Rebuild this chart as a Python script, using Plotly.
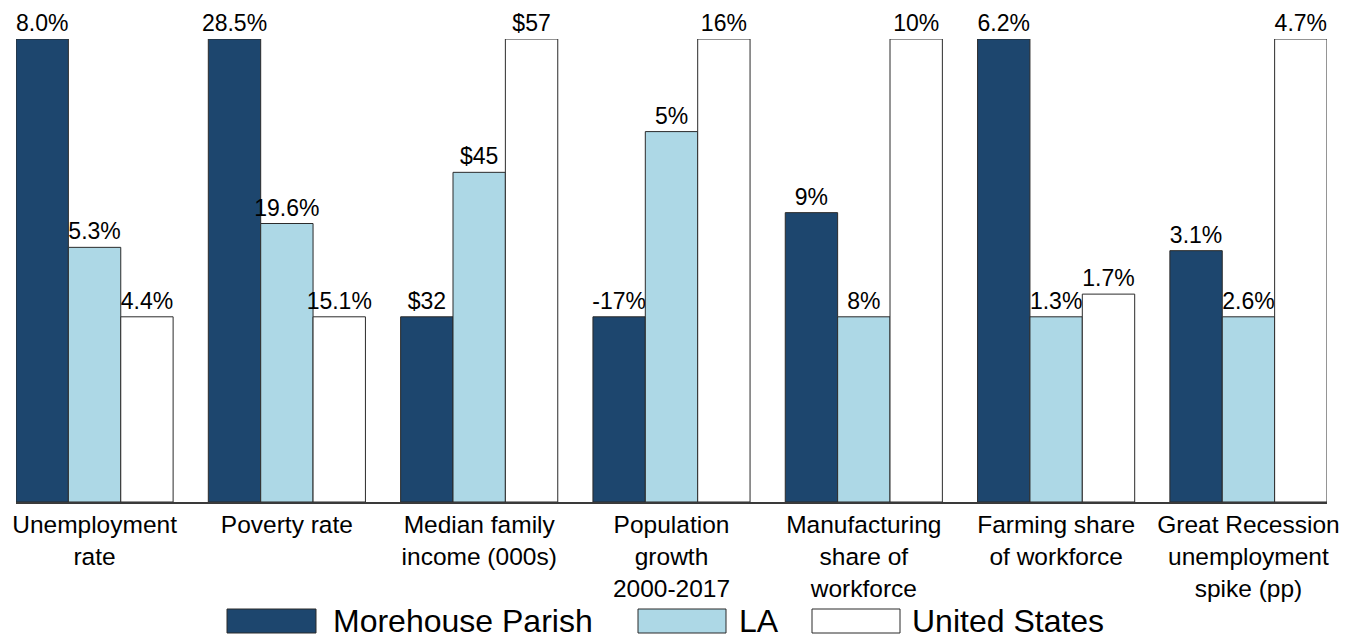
import plotly.graph_objects as go

# ---- data ----
categories = [
    "Unemployment<br>rate",
    "Poverty rate",
    "Median family<br>income (000s)",
    "Population<br>growth<br>2000-2017",
    "Manufacturing<br>share of<br>workforce",
    "Farming share<br>of workforce",
    "Great Recession<br>unemployment<br>spike (pp)",
]
series_names = ["Morehouse Parish", "LA", "United States"]
morehouse = [8.0, 28.5, 32, -17, 9.0, 6.2, 3.1]
louisiana = [5.3, 19.6, 45, 5, 8.4, 1.3, 2.6]
united_states = [4.4, 15.1, 57, 16, 10.0, 1.7, 4.7]
label_formats = ["{:.1f}%", "{:.1f}%", "${:.0f}", "{:.0f}%", "{:.0f}%", "{:.1f}%", "{:.1f}%"]

# ---- styling ----
colors = ["#1d466e", "#add8e6", "#ffffff"]
outline = "#2b2b2b"
font_family = "Liberation Sans, Arial, sans-serif"

series_values = [morehouse, louisiana, united_states]

# bars are drawn as min-max scaled heights within each category (floor 0.4)
heights = [[0.0] * len(categories) for _ in series_values]
for c in range(len(categories)):
    vals = [s[c] for s in series_values]
    lo, hi = min(vals), max(vals)
    for s_idx, v in enumerate(vals):
        heights[s_idx][c] = 0.4 + 0.6 * (v - lo) / (hi - lo)

fig = go.Figure()
for s_idx, name in enumerate(series_names):
    fig.add_trace(go.Bar(
        x=categories,
        y=heights[s_idx],
        name=name,
        text=[label_formats[c].format(v) for c, v in enumerate(series_values[s_idx])],
        textposition="outside",
        constraintext="none",
        textfont=dict(size=23, color="black", family=font_family),
        cliponaxis=False,
        marker=dict(color=colors[s_idx], line=dict(color=outline, width=1)),
        hoverinfo="skip",
    ))

# plot-area pixel geometry
W, H = 1357, 638
L, R, T, B = 16, 30, 39, 136
pw, ph = W - L - R, H - T - B

def px_to_paper_x(px):
    return (px - L) / pw

def py_to_paper_y(py):
    return (H - B - py) / ph

# custom legend (wide swatches as in the reference)
legend_rects = [(227, 316), (638, 726), (812, 900)]
legend_text_x = [331, 737, 910]
ly0, ly1 = 609, 633
for s_idx, name in enumerate(series_names):
    x0, x1 = legend_rects[s_idx]
    fig.add_shape(
        type="rect", xref="paper", yref="paper",
        x0=px_to_paper_x(x0), x1=px_to_paper_x(x1),
        y0=py_to_paper_y(ly1), y1=py_to_paper_y(ly0),
        fillcolor=colors[s_idx], line=dict(color=outline, width=1),
    )
    fig.add_annotation(
        xref="paper", yref="paper",
        x=px_to_paper_x(legend_text_x[s_idx]), y=py_to_paper_y((ly0 + ly1) / 2),
        xanchor="left", yanchor="middle", text=name, showarrow=False,
        font=dict(size=32, color="black", family=font_family),
    )

fig.update_layout(
    width=W, height=H,
    margin=dict(l=L, r=R, t=T, b=B, pad=0),
    barmode="group",
    bargap=0.183,
    bargroupgap=0,
    showlegend=False,
    plot_bgcolor="white",
    paper_bgcolor="white",
    font=dict(family=font_family, color="black"),
    xaxis=dict(
        range=[-0.4085, 6.4085],
        showline=True, linecolor="#3a3a3a", linewidth=2,
        ticks="", showgrid=False, zeroline=False,
        tickfont=dict(size=24.5, color="black", family=font_family),
        fixedrange=True,
    ),
    yaxis=dict(range=[0, 1], visible=False, showgrid=False, zeroline=False, fixedrange=True),
)

fig.write_html(
    "out.html",
    config={"displayModeBar": False, "staticPlot": True},
    post_script="document.body.style.margin='0';",
)
